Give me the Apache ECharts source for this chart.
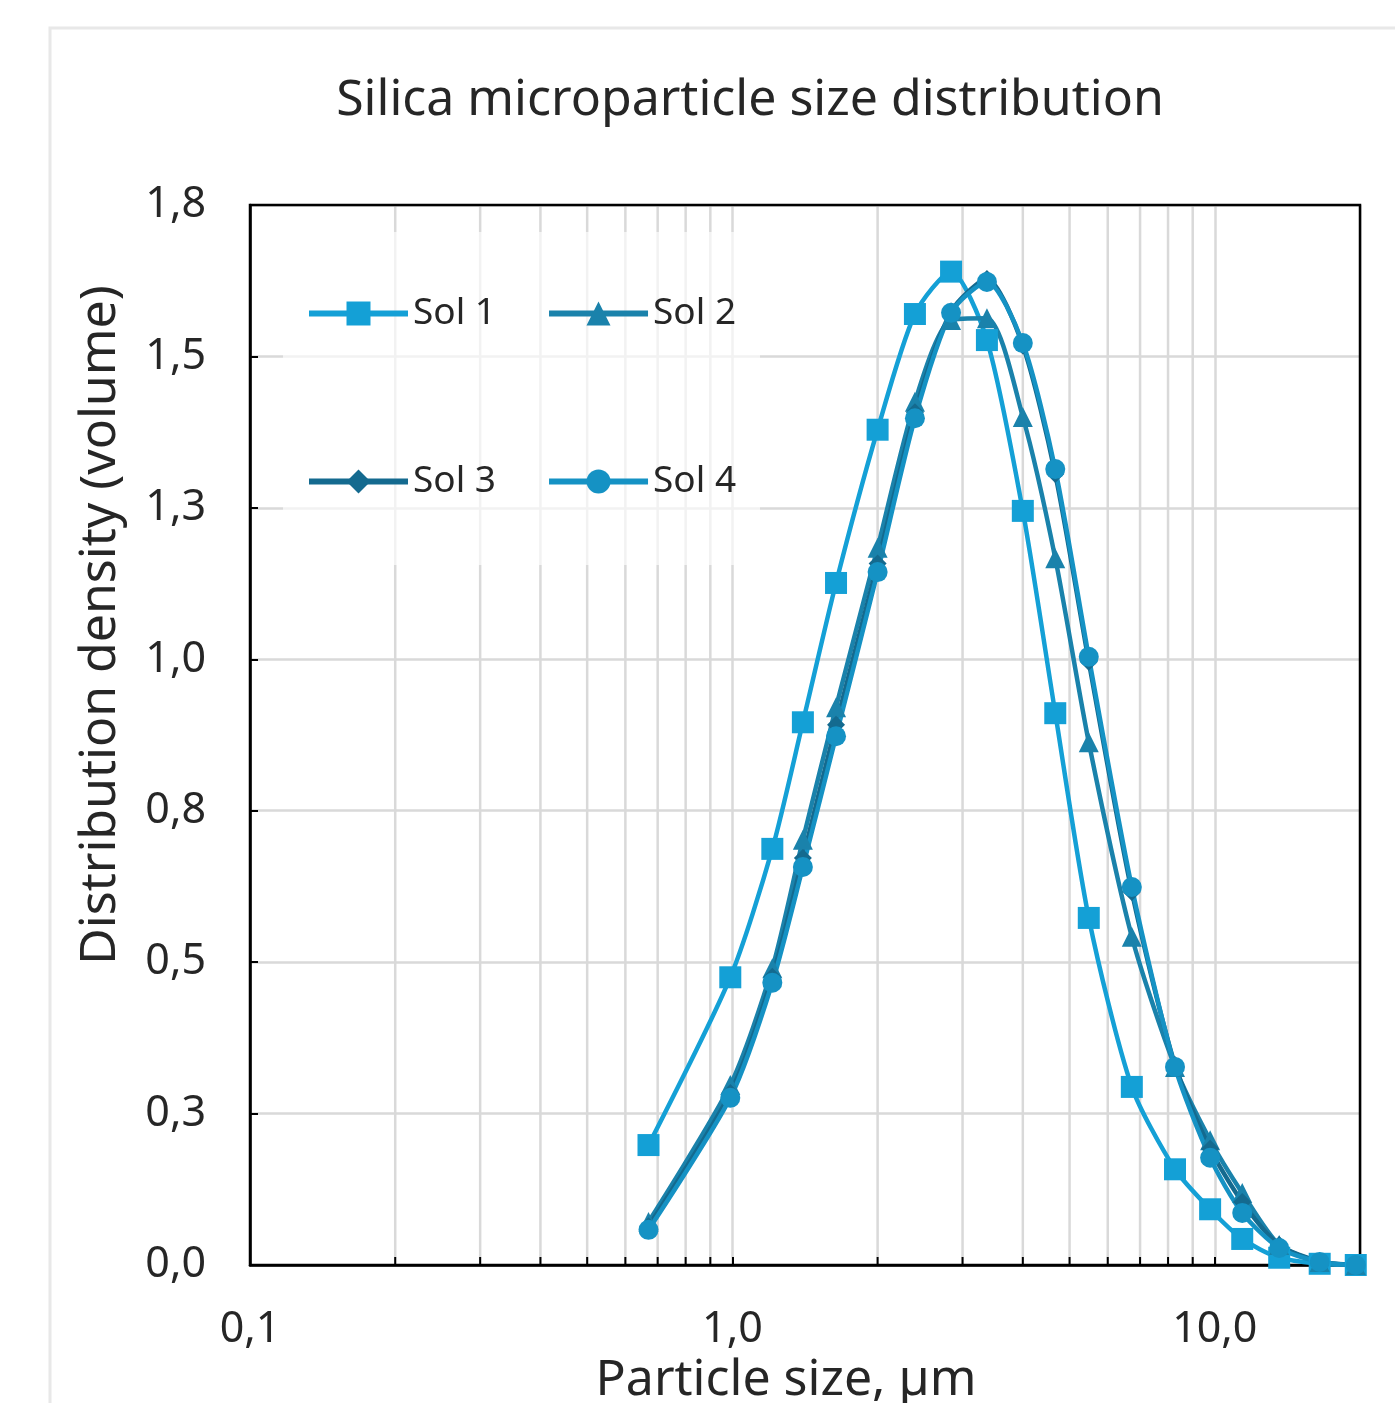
<!DOCTYPE html>
<html>
<head>
<meta charset="utf-8">
<script src="https://cdn.jsdelivr.net/npm/echarts@6/dist/echarts.min.js"></script>
<style>
html,body{margin:0;padding:0;background:#fff;}
#chart{width:1395px;height:1403px;}
</style>
</head>
<body>
<div id="chart"></div>
<script>
// ---- data ----
var chartTitle = 'Silica microparticle size distribution';
var xAxisName = 'Particle size, µm';
var yAxisName = 'Distribution density (volume)';
var seriesNames = ['Sol 1', 'Sol 2', 'Sol 3', 'Sol 4'];
var particleSizes = [0.67, 0.99, 1.21, 1.40, 1.64, 2.00, 2.39, 2.84, 3.37, 4.00, 4.67, 5.48, 6.73, 8.27, 9.78, 11.4, 13.6, 16.5, 19.6];
var sol1 = [0.198, 0.475, 0.687, 0.896, 1.126, 1.379, 1.570, 1.640, 1.527, 1.245, 0.911, 0.573, 0.294, 0.158, 0.092, 0.043, 0.012, 0.002, 0.0];
var sol2 = [0.071, 0.297, 0.490, 0.702, 0.921, 1.184, 1.425, 1.560, 1.563, 1.400, 1.167, 0.863, 0.542, 0.327, 0.206, 0.119, 0.033, 0.005, 0.0];
var sol3 = [0.064, 0.284, 0.476, 0.672, 0.892, 1.158, 1.408, 1.574, 1.628, 1.518, 1.306, 0.996, 0.616, 0.330, 0.192, 0.104, 0.033, 0.006, 0.0];
var sol4 = [0.058, 0.276, 0.466, 0.657, 0.873, 1.144, 1.398, 1.572, 1.623, 1.522, 1.314, 1.004, 0.624, 0.327, 0.177, 0.086, 0.028, 0.005, 0.0];
var xTickValues = [0.1, 1, 10];
var xTickLabels = ['0,1', '1,0', '10,0'];
var xMinorTicks = [0.2, 0.3, 0.4, 0.5, 0.6, 0.7, 0.8, 0.9, 2, 3, 4, 5, 6, 7, 8, 9];
var yTickLabels = ['0,0', '0,3', '0,5', '0,8', '1,0', '1,3', '1,5', '1,8'];

var colors = ['#14a0d6', '#1a82ab', '#146a8f', '#1592c4'];
var symbols = ['rect', 'triangle', 'diamond', 'circle'];
var symbolSizes = [22, 20, 18, 20];
var values = [sol1, sol2, sol3, sol4];

function pairs(xs, ys) { return xs.map(function (x, i) { return [x, ys[i]]; }); }

var FONT = 'Noto Sans';
var chart = echarts.init(document.getElementById('chart'), null, {renderer: 'canvas'});

var lineSeries = seriesNames.map(function (name, i) {
  return {
    name: name,
    type: 'line',
    data: pairs(particleSizes, values[i]),
    smooth: 0.25,
    symbol: symbols[i],
    symbolSize: symbolSizes[i],
    showAllSymbol: true,
    lineStyle: {color: colors[i], width: 4.5},
    itemStyle: {color: colors[i]},
    z: 3,
    silent: true,
    animation: false
  };
});

var minorGrid = {
  type: 'custom',
  silent: true,
  animation: false,
  z: 1,
  data: xMinorTicks.map(function (v) { return [v, 0]; }),
  encode: {x: 0, y: 1},
  renderItem: function (params, api) {
    var x = api.coord([api.value(0), 0])[0];
    var cs = params.coordSys;
    return {
      type: 'group',
      children: [
        {type: 'line', shape: {x1: x, y1: cs.y, x2: x, y2: cs.y + cs.height}, style: {stroke: '#d9d9d9', lineWidth: 2.5}},
        {type: 'line', shape: {x1: x, y1: cs.y + cs.height, x2: x, y2: cs.y + cs.height - 8}, style: {stroke: '#000', lineWidth: 2}}
      ]
    };
  }
};

function legendCfg(names, top) {
  return {
    data: names,
    left: 306,
    top: top,
    orient: 'horizontal',
    itemWidth: 99,
    itemHeight: 30,
    itemGap: 50,
    padding: 0,
    selectedMode: false,
    lineStyle: {width: 6},
    textStyle: {fontFamily: FONT, fontSize: 37, color: '#262626', padding: [0, 0, 0, 0]}
  };
}

var option = {
  backgroundColor: '#ffffff',
  animation: false,
  title: {
    text: chartTitle,
    left: 745,
    textAlign: 'center',
    top: 71,
    textStyle: {fontFamily: FONT, fontSize: 50, fontWeight: 'normal', color: '#262626'}
  },
  graphic: [
    {type: 'rect', shape: {x: 50, y: 28, width: 1400, height: 1420}, style: {fill: 'none', stroke: '#e8e8e8', lineWidth: 3}, z: 0, silent: true},
    {type: 'rect', shape: {x: 283, y: 232, width: 477, height: 333}, style: {fill: 'rgba(255,255,255,0.65)'}, z: 2, silent: true}
  ],
  legend: [legendCfg(['Sol 1', 'Sol 2'], 295), legendCfg(['Sol 3', 'Sol 4'], 463)],
  grid: {
    left: 250, top: 205, right: 35, bottom: 138,
    outerBoundsMode: 'none',
    z: 2,
    show: true, borderColor: '#000', borderWidth: 2.5, backgroundColor: 'transparent',
    containLabel: false
  },
  xAxis: {
    type: 'log',
    logBase: 10,
    min: 0.1,
    max: 20,
    name: xAxisName,
    nameLocation: 'middle',
    nameGap: 88,
    nameTextStyle: {fontFamily: FONT, fontSize: 50, color: '#262626', padding: [0, 38, 0, 0]},
    axisLine: {show: true, lineStyle: {color: '#000', width: 2.5}},
    axisTick: {show: true, inside: true, length: 8, lineStyle: {color: '#000', width: 2}},
    splitLine: {show: true, lineStyle: {color: '#d9d9d9', width: 2.5}},
    axisLabel: {
      margin: 43,
      fontFamily: FONT, fontSize: 43, color: '#262626',
      showMaxLabel: false,
      formatter: function (v) {
        for (var i = 0; i < xTickValues.length; i++) {
          if (Math.abs(v - xTickValues[i]) < 1e-9 * Math.max(1, v)) return xTickLabels[i];
        }
        return '';
      }
    }
  },
  yAxis: {
    type: 'value',
    min: 0,
    max: 1.75,
    interval: 0.25,
    name: yAxisName,
    nameLocation: 'middle',
    nameGap: 124,
    nameTextStyle: {fontFamily: FONT, fontSize: 50, color: '#262626', padding: [0, 0, 0, 220]},
    axisLine: {show: true, lineStyle: {color: '#000', width: 2.5}},
    axisTick: {show: true, inside: true, length: 8, lineStyle: {color: '#000', width: 2}},
    splitLine: {show: true, lineStyle: {color: '#d9d9d9', width: 2.5}},
    axisLabel: {
      margin: 44,
      fontFamily: FONT, fontSize: 43, color: '#262626',
      formatter: function (v) { return yTickLabels[Math.round(v / 0.25)]; }
    }
  },
  series: [minorGrid].concat(lineSeries)
};
chart.setOption(option);
</script>
</body>
</html>
